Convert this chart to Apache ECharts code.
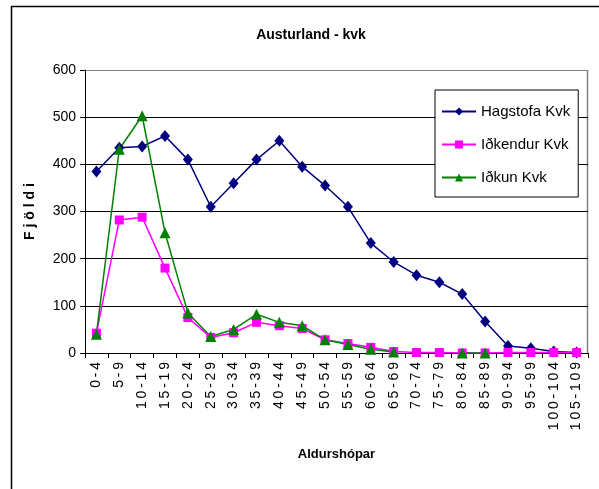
<!DOCTYPE html>
<html>
<head>
<meta charset="utf-8">
<script src="https://cdn.jsdelivr.net/npm/echarts@6/dist/echarts.min.js"></script>
<style>
  html, body { margin: 0; padding: 0; background: #fff; }
  #chart { width: 599px; height: 489px; }
</style>
</head>
<body>
<div id="chart"></div>
<script>
const ageGroups = ['0-4', '5-9', '10-14', '15-19', '20-24', '25-29', '30-34', '35-39', '40-44', '45-49',
  '50-54', '55-59', '60-64', '65-69', '70-74', '75-79', '80-84', '85-89', '90-94', '95-99', '100-104', '105-109'];
const hagstofa = [385, 435, 438, 460, 410, 310, 360, 410, 450, 395, 355, 310, 233, 193, 165, 150, 125, 67, 15, 10, 3, 1];
const idkendur = [42, 282, 288, 180, 75, 33, 43, 65, 58, 52, 28, 20, 12, 3, 1, 1, 0, 0, 1, 1, 1, 1];
const idkun = [40, 432, 503, 255, 85, 35, 50, 82, 65, 58, 28, 18, 8, 2, null, null, 0, 0, null, null, null, null];
const yTicks = [0, 100, 200, 300, 400, 500, 600];

const chart = echarts.init(document.getElementById('chart'));
const font = 'Liberation Sans, Arial, sans-serif';

chart.setOption({
  animation: false,
  backgroundColor: '#fff',
  textStyle: { fontFamily: font },
  title: {
    text: 'Austurland - kvk',
    left: 306, top: 23, textAlign: 'center',
    textStyle: { fontSize: 14, fontWeight: 'bold', color: '#000', fontFamily: font }
  },
  graphic: [
    { type: 'rect', shape: { x: 11.5, y: 6.5, width: 620, height: 520 },
      style: { fill: null, stroke: '#000', lineWidth: 1.5 }, z: 100 },
    { type: 'line', shape: { x1: 587.5, y1: 70, x2: 587.5, y2: 353 },
      style: { stroke: '#808080', lineWidth: 1.5 }, z: 0 }
  ],
  legend: {
    orient: 'vertical',
    left: 435, top: 90,
    padding: [14, 8, 12, 6],
    itemGap: 18,
    itemWidth: 34, itemHeight: 10,
    backgroundColor: '#fff',
    borderColor: '#000', borderWidth: 1,
    textStyle: { fontSize: 15, color: '#000', fontFamily: font },
    data: ['Hagstofa Kvk', 'Iðkendur Kvk', 'Iðkun Kvk']
  },
  grid: { left: 85, right: 11, top: 70, bottom: 136, containLabel: false },
  xAxis: {
    type: 'category',
    data: ageGroups,
    boundaryGap: true,
    name: 'Aldurshópar',
    nameLocation: 'middle',
    nameGap: 95,
    nameTextStyle: { fontSize: 13, fontWeight: 'bold', color: '#000', fontFamily: font },
    axisLine: { lineStyle: { color: '#000', width: 1 } },
    axisTick: { show: true, inside: false, length: 5, lineStyle: { color: '#000' } },
    axisLabel: {
      rotate: 90, interval: 0, fontSize: 14, color: '#000', margin: 9, fontFamily: font,
      formatter: v => v.split('').join('\u2009')
    },
    splitLine: { show: false }
  },
  yAxis: {
    type: 'value',
    min: yTicks[0], max: yTicks[yTicks.length - 1], interval: 100,
    name: 'F j ö l d i',
    nameLocation: 'middle',
    nameRotate: 90,
    nameGap: 48,
    nameTextStyle: { fontSize: 14, fontWeight: 'bold', color: '#000', fontFamily: font },
    axisLine: { show: true, lineStyle: { color: '#000', width: 1 } },
    axisTick: { show: true, length: 5, lineStyle: { color: '#000' } },
    axisLabel: { fontSize: 14, color: '#000', margin: 9, fontFamily: font },
    splitLine: { show: true, lineStyle: { color: ['#000', '#000', '#000', '#000', '#000', '#000', '#808080'], width: 1 } }
  },
  series: [
    {
      name: 'Hagstofa Kvk', type: 'line', data: hagstofa,
      symbol: 'diamond', symbolSize: [10, 12],
      itemStyle: { color: '#000080' },
      lineStyle: { color: '#000080', width: 1.5 }
    },
    {
      name: 'Iðkendur Kvk', type: 'line', data: idkendur,
      symbol: 'rect', symbolSize: 9,
      itemStyle: { color: '#ff00ff' },
      lineStyle: { color: '#ff00ff', width: 1.5 }
    },
    {
      name: 'Iðkun Kvk', type: 'line', data: idkun,
      symbol: 'triangle', symbolSize: 11,
      connectNulls: false,
      itemStyle: { color: '#008000' },
      lineStyle: { color: '#008000', width: 1.5 }
    }
  ]
});
</script>
</body>
</html>
